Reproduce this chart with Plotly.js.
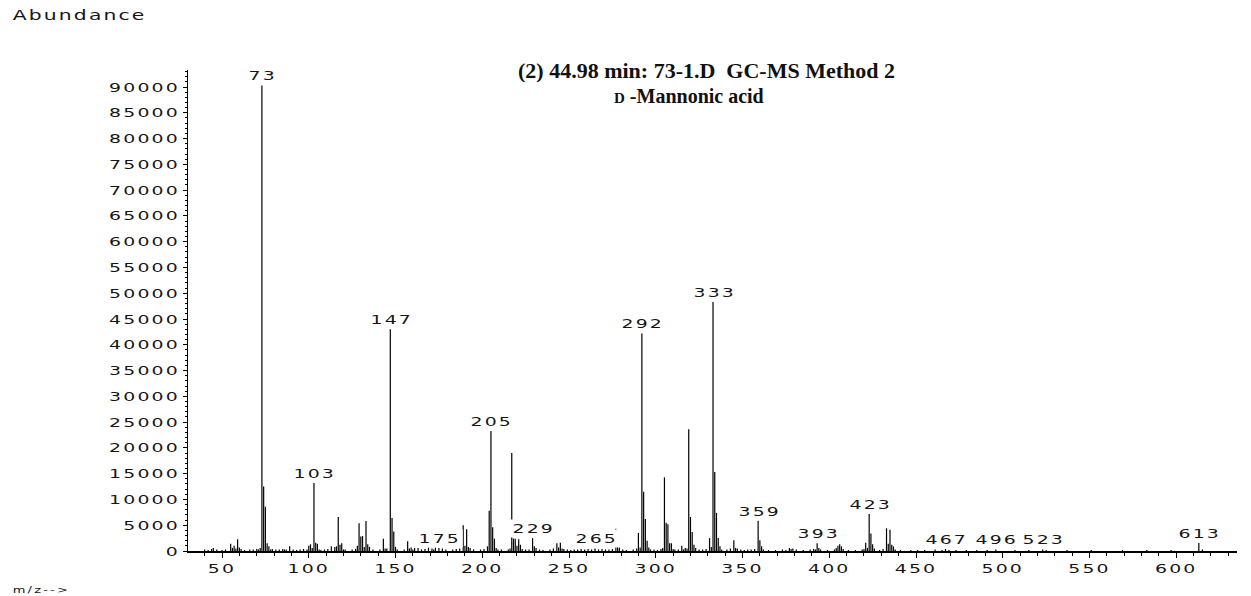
<!DOCTYPE html>
<html>
<head>
<meta charset="utf-8">
<script src="https://cdn.plot.ly/plotly-3.0.1.min.js"></script>
<style>
  html, body { margin: 0; padding: 0; background: #ffffff; }
  #chart { width: 1251px; height: 596px; }
  text[style*="DejaVu Sans"] { letter-spacing: 1.5px; }
</style>
</head>
<body>
<div id="chart"></div>
<script>
// m/z values and their abundances
const mz = [40,42,44,45,47,50,52,55,56,57,58,59,60,61,63,66,68,70,71,72,
  73,74,75,76,77,78,79,81,83,85,86,87,89,91,93,95,97,99,100,101,102,
  103,104,105,106,107,109,111,113,115,116,117,118,119,120,121,125,127,128,129,130,131,132,133,134,135,137,141,143,144,145,
  147,148,149,150,151,155,157,158,159,160,161,163,165,167,169,171,172,173,175,177,179,183,185,187,189,190,191,192,193,195,199,201,203,
  204,205,206,207,208,209,211,215,216,217,218,219,220,221,222,223,225,227,229,230,231,233,235,239,241,243,244,245,246,247,249,251,253,255,257,259,261,263,265,267,269,271,273,275,277,278,279,281,283,287,289,
  290,291,292,293,294,295,296,297,299,301,303,304,305,306,307,308,309,310,311,313,315,316,317,318,319,320,321,322,323,325,327,329,331,332,333,334,335,336,337,338,341,343,345,346,347,349,351,353,355,357,359,360,361,362,365,369,373,375,377,378,379,381,385,389,391,392,393,394,395,399,403,404,405,406,407,408,411,415,419,420,421,422,423,424,425,426,429,431,433,434,435,436,437,438,441,447,451,455,461,465,467,469,473,479,485,491,496,507,515,523,525,537,551,569,583,597,613,615];
const abundance = [300,200,400,600,300,200,300,1400,600,1000,500,2300,700,400,200,300,300,400,300,600,
  90300,12500,8600,1500,900,300,400,300,300,400,300,300,900,300,200,300,400,300,1000,1300,600,
  13200,1600,1400,300,200,300,400,900,800,900,6600,1200,1500,300,300,300,400,1000,5400,2800,2900,800,5800,1300,800,300,300,2400,500,500,
  43000,6400,3800,800,300,300,1900,500,700,300,600,600,300,400,700,500,300,700,600,500,300,300,400,500,5000,1000,4200,800,600,300,300,400,900,
  7800,23300,4600,2400,600,300,300,300,500,19000,2400,2400,1000,2300,1200,400,300,300,2500,900,600,300,200,300,500,1500,700,1600,500,400,300,200,300,300,400,300,400,300,500,300,400,300,300,400,4300,800,700,300,200,300,500,
  3500,700,42200,11500,6200,2000,700,300,300,200,400,600,14300,5500,5200,1500,1500,400,300,300,1000,300,600,500,23600,6600,3700,1200,600,300,300,400,2500,800,48300,15300,7400,2500,900,300,300,500,2100,600,500,300,200,300,300,400,5900,2100,900,300,200,200,300,200,600,400,500,300,200,300,400,300,1500,600,300,200,300,600,1000,1300,900,400,200,200,300,400,1600,600,7200,3400,1300,500,200,400,4400,1400,4100,1200,900,300,200,200,200,200,300,200,400,200,200,200,200,200,300,200,200,300,200,200,200,200,200,200,1600,300];
// labelled peaks
const labelledPeaks = [73,103,147,175,205,229,265,292,333,359,393,423,467,496,523,613];
// axis ticks
const xTickVals = [50,100,150,200,250,300,350,400,450,500,550,600];
const yTickVals = [0,5000,10000,15000,20000,25000,30000,35000,40000,45000,50000,55000,60000,65000,70000,75000,80000,85000,90000];

const xs = [], ys = [];
for (let i = 0; i < mz.length; i++) {
  xs.push(mz[i], mz[i], null);
  ys.push(0, abundance[i], null);
}

const labelFont = {family: 'DejaVu Sans', size: 13, color: '#151515'};

const annotations = labelledPeaks.map(m => ({
  x: m, y: abundance[mz.indexOf(m)], xref: 'x', yref: 'y',
  text: String(m), showarrow: false, xanchor: 'center', yanchor: 'bottom',
  yshift: 0, xshift: 1, bgcolor: '#ffffff', borderpad: 1, font: labelFont
}));

annotations.push(
  {xref: 'paper', yref: 'paper', x: -0.170, y: 1.114, xanchor: 'left', yanchor: 'middle',
   text: 'Abundance', showarrow: false, font: {family: 'DejaVu Sans', size: 14, color: '#151515'}},
  {xref: 'paper', yref: 'paper', x: -0.170, y: -0.081, xanchor: 'left', yanchor: 'middle',
   text: 'm/z-->', showarrow: false, font: {family: 'DejaVu Sans', size: 9, color: '#151515'}},
  {xref: 'paper', yref: 'paper', x: 0.494, y: 1.0, xanchor: 'center', yanchor: 'middle',
   text: '(2) 44.98 min: 73-1.D  GC-MS Method 2', showarrow: false,
   font: {family: 'Liberation Serif', size: 22, color: '#111', weight: 'bold'}},
  {xref: 'paper', yref: 'paper', x: 0.478, y: 0.946, xanchor: 'center', yanchor: 'middle',
   text: '<span style="font-size:15px">D</span> -Mannonic acid', showarrow: false,
   font: {family: 'Liberation Serif', size: 20, color: '#111', weight: 'bold'}}
);

const data = [{
  type: 'scatter', mode: 'lines', x: xs, y: ys,
  line: {color: '#000000', width: 1.2}, connectgaps: false, hoverinfo: 'skip'
}];

const layout = {
  width: 1251, height: 596,
  margin: {l: 188, r: 14, t: 70, b: 45, pad: 0},
  paper_bgcolor: '#ffffff', plot_bgcolor: '#ffffff',
  showlegend: false, hovermode: false,
  xaxis: {
    range: [30.4, 635], tickvals: xTickVals, ticktext: xTickVals.map(String),
    showgrid: false, zeroline: false, showline: true, linecolor: '#000', linewidth: 1.5,
    ticks: 'outside', ticklen: 5, tickwidth: 1, tickcolor: '#000',
    minor: {dtick: 10, tick0: 0, ticks: 'outside', ticklen: 3, tickcolor: '#000', showgrid: false},
    tickfont: {family: 'DejaVu Sans', size: 13, color: '#151515'}
  },
  yaxis: {
    range: [0, 93300], tickvals: yTickVals, ticktext: yTickVals.map(String),
    showgrid: false, zeroline: false, showline: true, linecolor: '#000', linewidth: 1.5,
    ticks: 'outside', ticklen: 4, tickwidth: 1, tickcolor: '#000',
    minor: {dtick: 1000, tick0: 0, ticks: 'outside', ticklen: 2, tickcolor: '#000', showgrid: false},
    tickfont: {family: 'DejaVu Sans', size: 13, color: '#151515'}
  },
  annotations: annotations
};

// the reference uses a horizontally wide sans face; widen the sans texts in place
const STRETCH = 1.45;
function widen(gd) {
  gd.querySelectorAll('.xtick text, .ytick text').forEach(t => {
    const bb = t.getBBox();
    const anchor = t.getAttribute('text-anchor');
    const ax = anchor === 'end' ? bb.x + bb.width : (anchor === 'start' ? bb.x : bb.x + bb.width / 2);
    const tr = t.getAttribute('transform') || '';
    t.setAttribute('transform', tr + ' translate(' + ax + ',0) scale(' + STRETCH + ',1) translate(' + (-ax) + ',0)');
  });
  gd.querySelectorAll('g.annotation').forEach(g => {
    const idx = +g.getAttribute('data-index');
    const ann = layout.annotations[idx];
    if (!ann || !ann.font || ann.font.family !== 'DejaVu Sans') return;
    const tg = g.querySelector('.annotation-text-g');
    if (!tg) return;
    const bb = tg.getBBox();
    const ax = ann.xanchor === 'left' ? bb.x : bb.x + bb.width / 2;
    const tr = tg.getAttribute('transform') || '';
    tg.setAttribute('transform', tr + ' translate(' + ax + ',0) scale(' + STRETCH + ',1) translate(' + (-ax) + ',0)');
  });
}

Plotly.newPlot('chart', data, layout, {staticPlot: true, displayModeBar: false}).then(widen);
</script>
</body>
</html>
